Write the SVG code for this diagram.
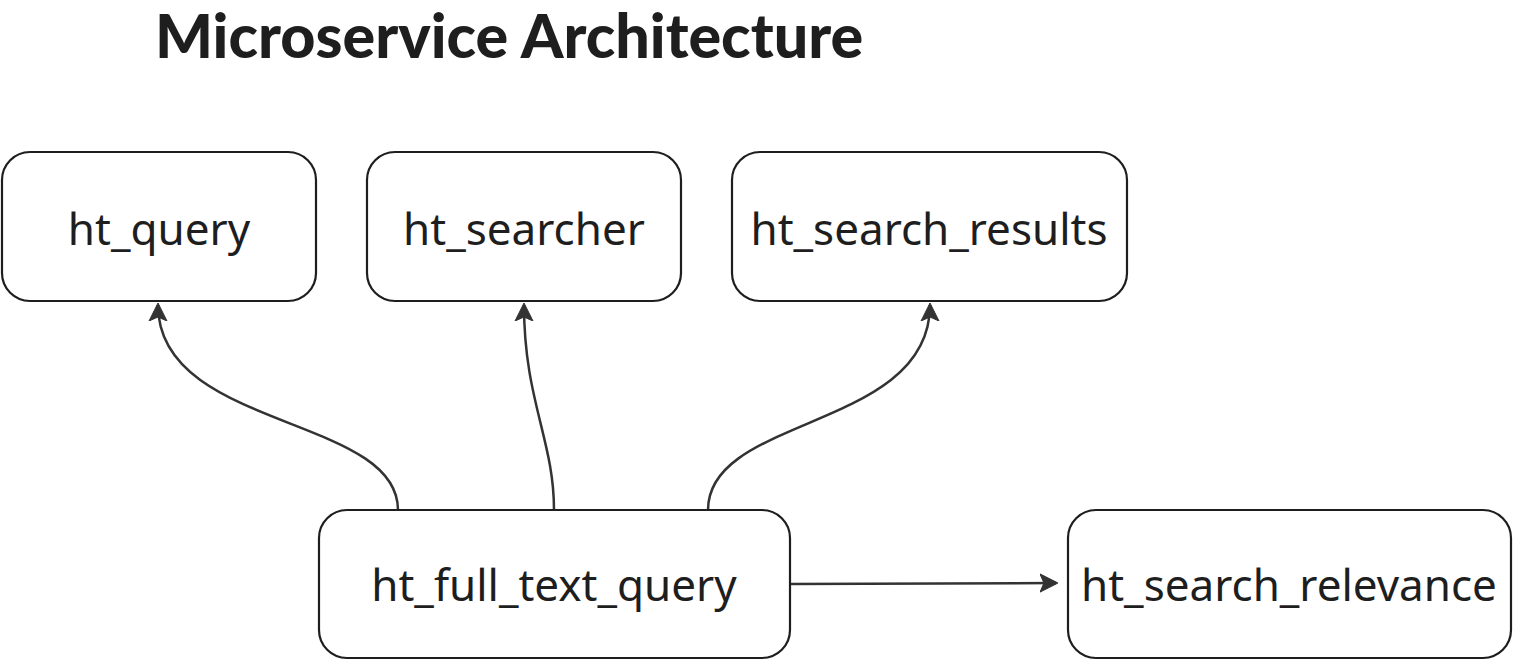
<svg xmlns="http://www.w3.org/2000/svg" width="1513" height="660" viewBox="0 0 1513 660">
<style>
.box{fill:#fff;stroke:#1e1e1e;stroke-width:2.2}
.lbl{font-family:"Noto Sans","Open Sans",sans-serif;font-size:44px;fill:#1e1e1e;text-anchor:middle}
.title{font-family:"Lato","Liberation Sans",sans-serif;font-weight:900;font-size:61px;fill:#1e1e1e}
.edge{fill:none;stroke:#333;stroke-width:2.5}
</style>
<defs>
<marker id="a" viewBox="0 0 18 20" refX="16" refY="10" markerWidth="18" markerHeight="20" markerUnits="userSpaceOnUse" orient="auto">
<path d="M0,1 L18,10 L0,19 L4,10 Z" fill="#333" stroke="#333" stroke-width="1" stroke-linejoin="round"/>
</marker>
</defs>
<text class="title" x="155" y="58">Microservice Architecture</text>
<g id="connectors">
<path class="edge" d="M398,510 C398,415 158,430 158,305" marker-end="url(#a)"/>
<path class="edge" d="M554,510 C554,440 524,400 524,305" marker-end="url(#a)"/>
<path class="edge" d="M708,510 C708,415 930,430 930,305" marker-end="url(#a)"/>
<path class="edge" d="M790,584 L1056,583" marker-end="url(#a)"/>
</g>
<g id="ht_query"><rect class="box" x="2" y="152" width="314" height="149" rx="28"/><text class="lbl" x="159" y="245">ht_query</text></g>
<g id="ht_searcher"><rect class="box" x="367" y="152" width="314" height="149" rx="28"/><text class="lbl" x="524" y="245">ht_searcher</text></g>
<g id="ht_search_results"><rect class="box" x="732" y="152" width="395" height="149" rx="28"/><text class="lbl" x="929" y="245">ht_search_results</text></g>
<g id="ht_full_text_query"><rect class="box" x="319" y="510" width="471" height="148" rx="28"/><text class="lbl" x="554" y="601">ht_full_text_query</text></g>
<g id="ht_search_relevance"><rect class="box" x="1068" y="510" width="443" height="148" rx="28"/><text class="lbl" x="1289" y="601">ht_search_relevance</text></g>
</svg>
